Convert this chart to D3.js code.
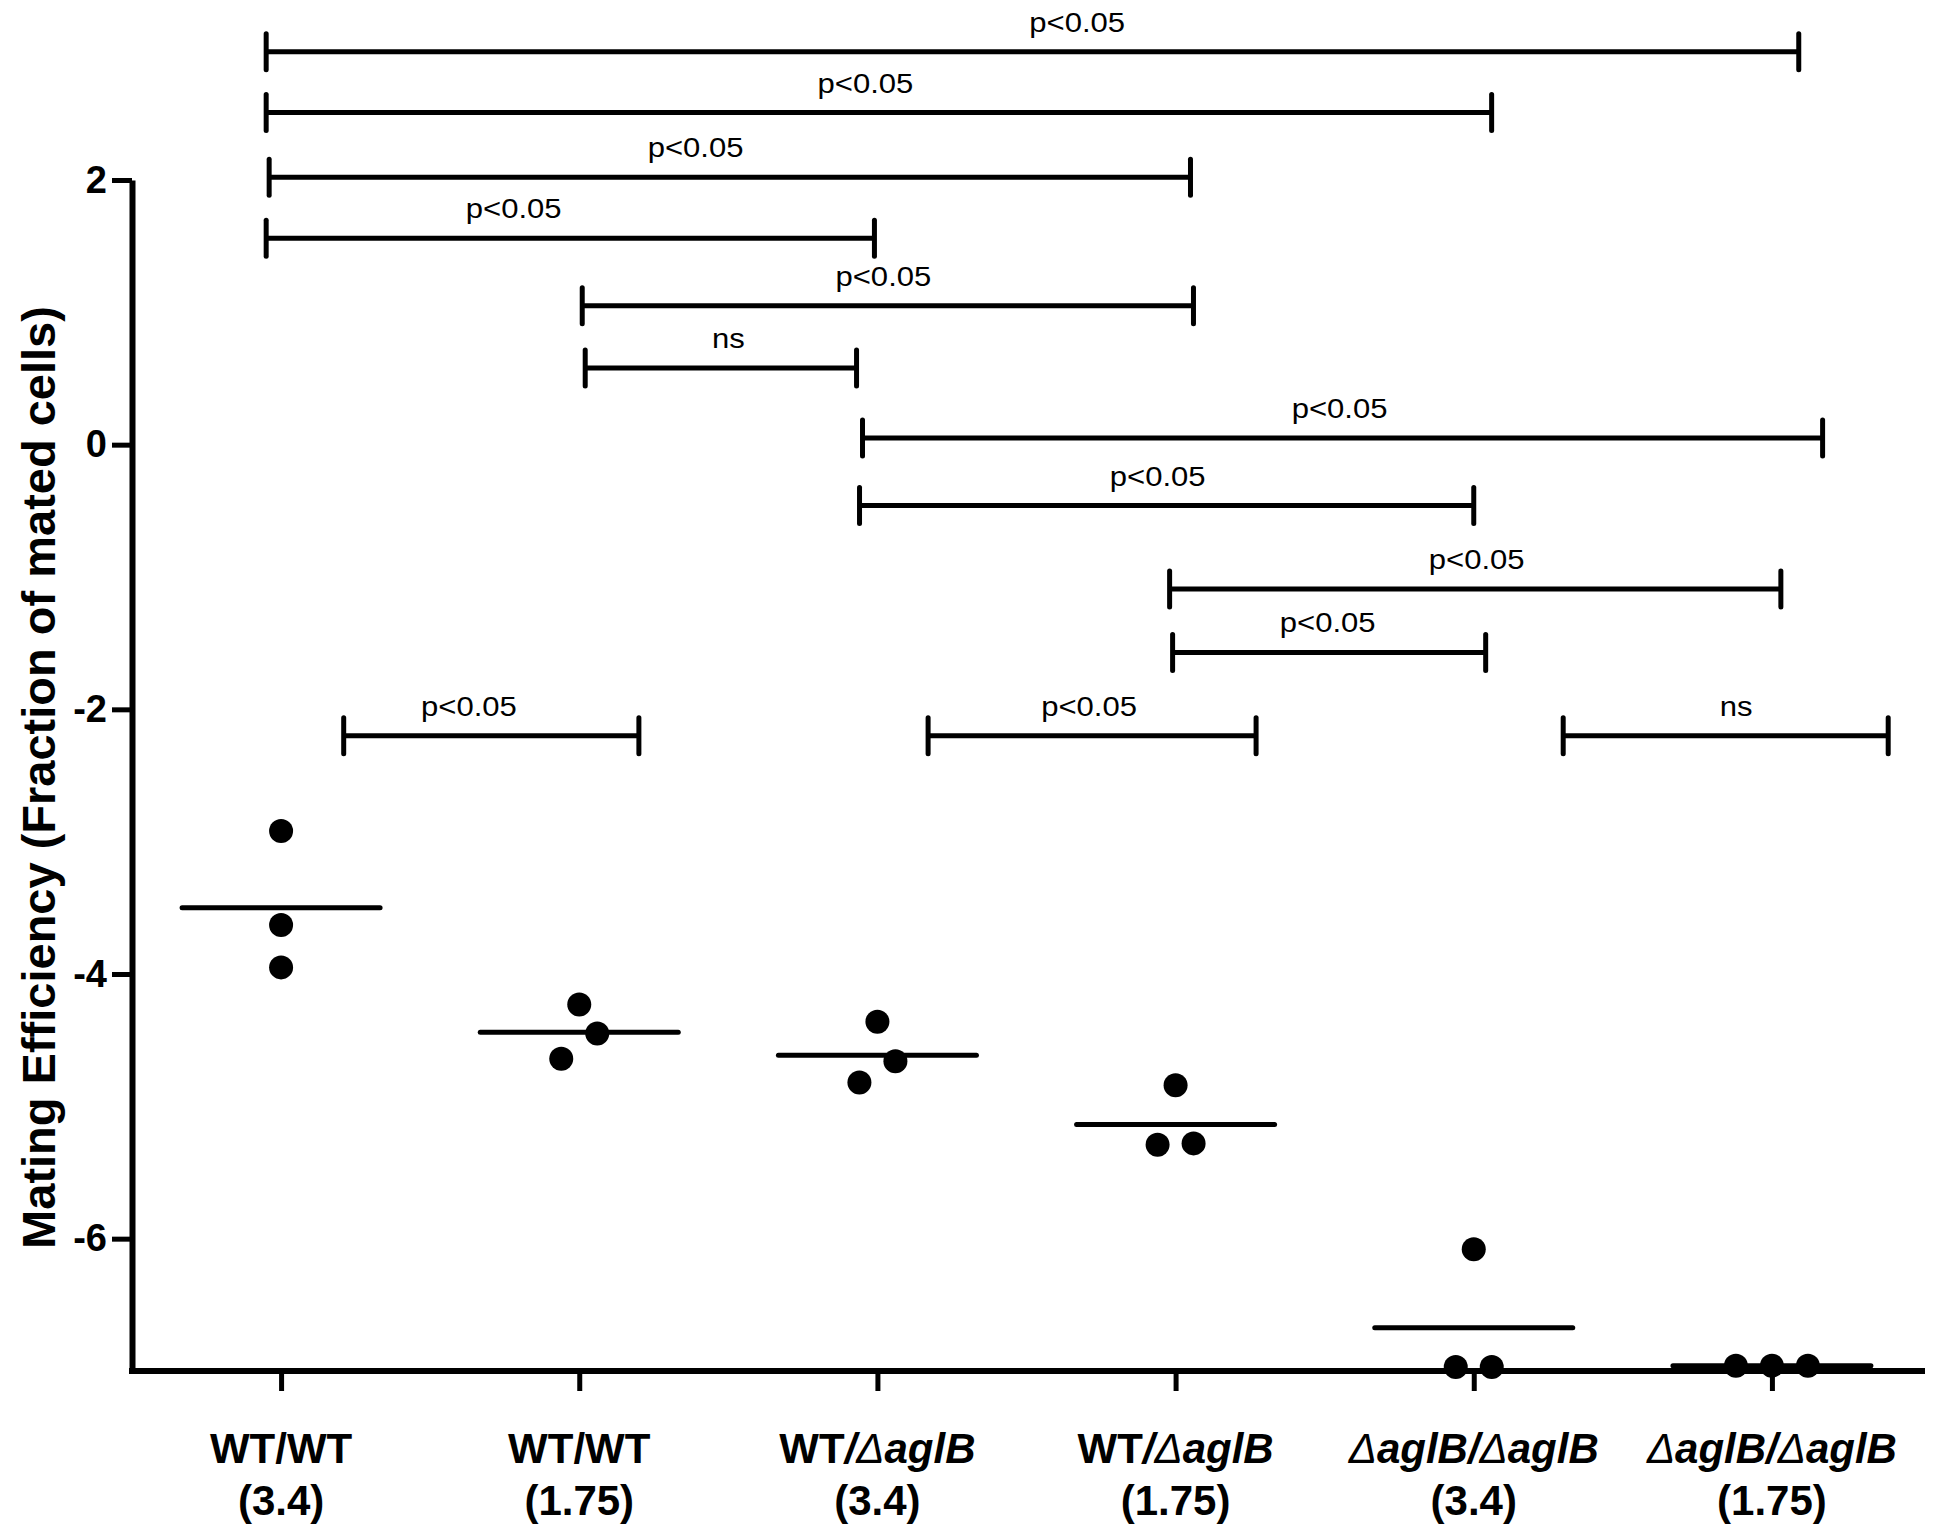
<!DOCTYPE html>
<html>
<head>
<meta charset="utf-8">
<script src="https://cdn.jsdelivr.net/npm/d3@7"></script>
<style>
  body { margin: 0; background: #fff; }
  svg { display: block; }
</style>
</head>
<body>
<svg id="chart"></svg>
<script>
const width = 1933, height = 1535;

// groups: genotype pair and cell ratio
const groups = ["WT/WT 3.4", "WT/WT 1.75", "WT/aglB 3.4", "WT/aglB 1.75", "aglB/aglB 3.4", "aglB/aglB 1.75"];
const labelTop = [
  [["WT/WT", "b"]],
  [["WT/WT", "b"]],
  [["WT", "b"], ["/", "bi"], ["\u0394", "i"], ["aglB", "bi"]],
  [["WT", "b"], ["/", "bi"], ["\u0394", "i"], ["aglB", "bi"]],
  [["\u0394", "i"], ["aglB/", "bi"], ["\u0394", "i"], ["aglB", "bi"]],
  [["\u0394", "i"], ["aglB/", "bi"], ["\u0394", "i"], ["aglB", "bi"]]
];
const labelBottom = ["(3.4)", "(1.75)", "(3.4)", "(1.75)", "(3.4)", "(1.75)"];

// log mating efficiency, three replicates per group
const values = [
  [-2.92, -3.63, -3.95],
  [-4.23, -4.45, -4.64],
  [-4.36, -4.66, -4.82],
  [-4.84, -5.29, -5.28],
  [-6.08, -6.97, -6.97],
  [-6.96, -6.96, -6.96]
];
// side-by-side slot of each replicate (scatter dot plot spreading)
const slots = [
  [0, 0, 0],
  [0, 1, -1],
  [0, 1, -1],
  [0, -1, 1],
  [0, -1, 1],
  [-2, 0, 2]
];

const yTicks = [2, 0, -2, -4, -6];

// [from group, to group, level, text, text at group]
const comparisons = [
  [-0.05, 5.09, 2.97, "p<0.05", 2.67],
  [-0.05, 4.06, 2.51, "p<0.05", 1.96],
  [-0.04, 3.05, 2.02, "p<0.05", 1.39],
  [-0.05, 1.99, 1.56, "p<0.05", 0.78],
  [1.01, 3.06, 1.05, "p<0.05", 2.02],
  [1.02, 1.93, 0.58, "ns", 1.50],
  [1.95, 5.17, 0.05, "p<0.05", 3.55],
  [1.94, 4.00, -0.46, "p<0.05", 2.94],
  [2.98, 5.03, -1.09, "p<0.05", 4.01],
  [2.99, 4.04, -1.57, "p<0.05", 3.51],
  [0.21, 1.20, -2.20, "p<0.05", 0.63],
  [2.17, 3.27, -2.20, "p<0.05", 2.71],
  [4.30, 5.39, -2.20, "ns", 4.88]
];

const font = "'Liberation Sans', Arial, Helvetica, sans-serif";
const slotWidth = 18, dotR = 12, meanHalf = 99, capHalf = 18;

const svg = d3.select("#chart")
  .attr("width", width)
  .attr("height", height)
  .style("font-family", font);

const x = d3.scalePoint()
  .domain(groups)
  .range([132, 1921])
  .padding(0.5);

const y = d3.scaleLinear()
  .domain([-7, 2])
  .range([1371, 180]);

// fractional group position, for the comparison bars
const gx = d3.scaleLinear()
  .domain([0, groups.length - 1])
  .range([x(groups[0]), x(groups[groups.length - 1])]);

// y axis
const yAxis = svg.append("g")
  .attr("transform", "translate(132,0)")
  .call(d3.axisLeft(y).tickValues(yTicks).tickSize(20).tickSizeOuter(0).tickPadding(5)
    .tickFormat(d => String(d)));
yAxis.select(".domain").attr("stroke", "#000").attr("stroke-width", 6);
yAxis.selectAll(".tick line").attr("stroke", "#000").attr("stroke-width", 5);
yAxis.selectAll(".tick text")
  .attr("fill", "#000")
  .style("font-family", font)
  .style("font-size", "38px")
  .style("font-weight", "bold");

// x axis
const xAxis = svg.append("g")
  .attr("transform", "translate(0,1371)")
  .call(d3.axisBottom(x).tickSize(20).tickSizeOuter(0).tickFormat(""));
xAxis.select(".domain").attr("stroke", "#000").attr("stroke-width", 6)
  .attr("d", "M129,0H1925");
xAxis.selectAll(".tick line").attr("stroke", "#000").attr("stroke-width", 5);

// x labels, two lines
const styleOf = {
  b: { weight: "bold", style: "normal" },
  bi: { weight: "bold", style: "italic" },
  i: { weight: "normal", style: "italic" }
};
groups.forEach((g, i) => {
  const t1 = svg.append("text")
    .attr("x", x(g))
    .attr("y", 1463)
    .attr("text-anchor", "middle")
    .style("font-size", "42px");
  labelTop[i].forEach(([txt, s]) => {
    t1.append("tspan")
      .text(txt)
      .style("font-weight", styleOf[s].weight)
      .style("font-style", styleOf[s].style);
  });
  svg.append("text")
    .attr("x", x(g))
    .attr("y", 1515)
    .attr("text-anchor", "middle")
    .style("font-size", "42px")
    .style("font-weight", "bold")
    .text(labelBottom[i]);
});

// y title
svg.append("text")
  .attr("transform", `translate(55,${(y(2) + y(-7)) / 2 + 2}) rotate(-90)`)
  .attr("text-anchor", "middle")
  .style("font-size", "47px")
  .style("font-weight", "bold")
  .text("Mating Efficiency (Fraction of mated cells)");

// mean lines
svg.selectAll(".mean")
  .data(groups)
  .enter().append("line")
  .attr("class", "mean")
  .attr("x1", g => x(g) - meanHalf)
  .attr("x2", g => x(g) + meanHalf)
  .attr("y1", (g, i) => y(d3.mean(values[i])))
  .attr("y2", (g, i) => y(d3.mean(values[i])))
  .attr("stroke", "#000")
  .attr("stroke-width", 5)
  .attr("stroke-linecap", "round");

// replicate dots
const points = groups.flatMap((g, i) => values[i].map((v, j) => ({ g, v, slot: slots[i][j] })));
svg.selectAll(".dot")
  .data(points)
  .enter().append("circle")
  .attr("class", "dot")
  .attr("cx", d => x(d.g) + d.slot * slotWidth)
  .attr("cy", d => y(d.v))
  .attr("r", dotR)
  .attr("fill", "#000");

// comparison bars
const bars = svg.selectAll(".cmp")
  .data(comparisons)
  .enter().append("g")
  .attr("class", "cmp");

bars.append("line")
  .attr("x1", d => gx(d[0]))
  .attr("x2", d => gx(d[1]))
  .attr("y1", d => y(d[2]))
  .attr("y2", d => y(d[2]))
  .attr("stroke", "#000")
  .attr("stroke-width", 5);

bars.selectAll(".cap")
  .data(d => [[d[0], d[2]], [d[1], d[2]]])
  .enter().append("line")
  .attr("class", "cap")
  .attr("x1", d => gx(d[0]))
  .attr("x2", d => gx(d[0]))
  .attr("y1", d => y(d[1]) - capHalf)
  .attr("y2", d => y(d[1]) + capHalf)
  .attr("stroke", "#000")
  .attr("stroke-width", 5)
  .attr("stroke-linecap", "round");

bars.append("text")
  .attr("transform", d => `translate(${gx(d[4])},${y(d[2]) - 20}) scale(1.15,1)`)
  .attr("text-anchor", "middle")
  .style("font-size", "27px")
  .text(d => d[3]);
</script>
</body>
</html>
